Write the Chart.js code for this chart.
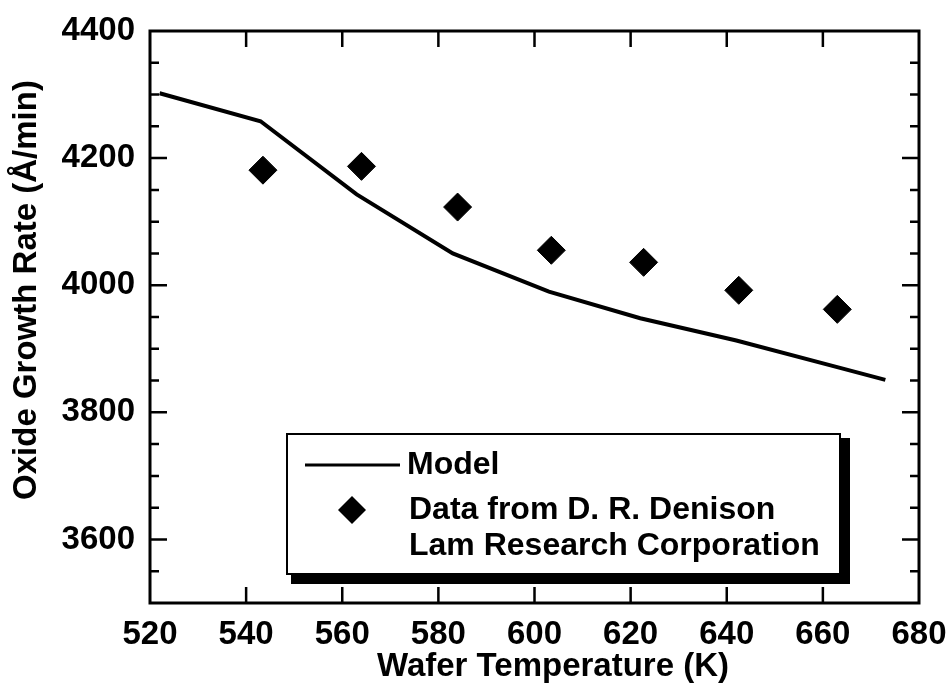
<!DOCTYPE html>
<html>
<head>
<meta charset="utf-8">
<title>Oxide Growth Rate vs Wafer Temperature</title>
<script src="https://cdn.jsdelivr.net/npm/chart.js@4.4.1/dist/chart.umd.min.js"></script>
<style>
  html, body { margin: 0; padding: 0; background: #fff; }
  canvas { display: block; }
</style>
</head>
<body>
<canvas id="chart" width="951" height="688"></canvas>
<script>
// model curve
const modelTemps = [522, 543, 563, 583, 603, 622, 642, 662, 673];
const modelRates = [4302, 4258, 4143, 4050, 3990, 3948, 3913, 3873, 3851];
// measured points (D. R. Denison, Lam Research)
const dataTemps = [543.5, 564, 584, 603.5, 622.7, 642.5, 663];
const dataRates = [4181, 4187, 4123, 4055, 4036, 3992, 3962];
// tick labels
const xTicks = [520, 540, 560, 580, 600, 620, 640, 660, 680];
const yTicks = [3600, 3800, 4000, 4200, 4400];
const yMinorStep = 50;

const FONT = '"Liberation Sans", Arial, Helvetica, sans-serif';

// frame, inward ticks, axis titles and the boxed legend
const decor = {
    id: 'decor',
    afterDraw(chart) {
        const ctx = chart.ctx;
        const a = chart.chartArea;
        const x = chart.scales.x;
        const y = chart.scales.y;
        ctx.save();
        ctx.strokeStyle = '#000';
        ctx.fillStyle = '#000';

        // ticks
        ctx.lineWidth = 2.5;
        ctx.beginPath();
        xTicks.slice(1, -1).forEach(v => {
            const px = x.getPixelForValue(v);
            ctx.moveTo(px, a.bottom); ctx.lineTo(px, a.bottom - 16);
            ctx.moveTo(px, a.top); ctx.lineTo(px, a.top + 16);
        });
        for (let v = y.min + yMinorStep; v < y.max; v += yMinorStep) {
            const py = y.getPixelForValue(v);
            const len = yTicks.includes(v) ? 17 : 9;
            ctx.moveTo(a.left, py); ctx.lineTo(a.left + len, py);
            ctx.moveTo(a.right, py); ctx.lineTo(a.right - len, py);
        }
        ctx.stroke();

        // frame
        ctx.lineWidth = 3;
        ctx.strokeRect(a.left, a.top, a.right - a.left, a.bottom - a.top);

        // axis titles
        ctx.font = 'bold 33px ' + FONT;
        ctx.textAlign = 'center';
        ctx.textBaseline = 'middle';
        ctx.fillText('Wafer Temperature (K)', 553, 667);
        ctx.save();
        ctx.translate(27, 290);
        ctx.rotate(-Math.PI / 2);
        ctx.fillText('Oxide Growth Rate (Å/min)', 0, 0);
        ctx.restore();

        // legend box with drop shadow
        const bx = 287, by = 434, bw = 553, bh = 140;
        ctx.fillRect(bx + 4, by + 4, bw + 6, bh + 6);
        ctx.fillStyle = '#fff';
        ctx.fillRect(bx, by, bw, bh);
        ctx.lineWidth = 2;
        ctx.strokeRect(bx, by, bw, bh);

        ctx.fillStyle = '#000';
        ctx.lineWidth = 3;
        ctx.beginPath();
        ctx.moveTo(305, 465); ctx.lineTo(400, 465);
        ctx.stroke();

        ctx.beginPath();
        ctx.moveTo(352, 496); ctx.lineTo(366, 510);
        ctx.lineTo(352, 524); ctx.lineTo(338, 510);
        ctx.closePath();
        ctx.fill();

        ctx.font = 'bold 32px ' + FONT;
        ctx.textAlign = 'left';
        ctx.fillText('Model', 407, 465);
        ctx.fillText('Data from D. R. Denison', 409, 510);
        ctx.fillText('Lam Research Corporation', 409, 546);
        ctx.restore();
    }
};

const ctx = document.getElementById('chart').getContext('2d');
const chart = new Chart(ctx, {
    type: 'scatter',
    data: {
        datasets: [{
            label: 'Model',
            type: 'line',
            data: modelTemps.map((t, i) => ({ x: t, y: modelRates[i] })),
            borderColor: '#000',
            borderWidth: 4,
            pointRadius: 0,
            tension: 0,
            fill: false
        }, {
            label: 'Data from D. R. Denison Lam Research Corporation',
            data: dataTemps.map((t, i) => ({ x: t, y: dataRates[i] })),
            pointStyle: 'rectRot',
            pointRadius: 14,
            backgroundColor: '#000',
            borderColor: '#000',
            borderWidth: 1
        }]
    },
    options: {
        responsive: false,
        animation: false,
        layout: { padding: { top: 31, right: 32, left: 0, bottom: 0 } },
        plugins: {
            legend: { display: false },
            tooltip: { enabled: false }
        },
        scales: {
            x: {
                type: 'linear',
                min: 520,
                max: 680,
                grid: { display: false },
                border: { display: false },
                afterBuildTicks: s => { s.ticks = xTicks.map(v => ({ value: v })); },
                afterFit: s => { s.height = 85; },
                ticks: {
                    color: '#000',
                    padding: 4,
                    maxRotation: 0,
                    callback: v => String(v),
                    font: { family: FONT, size: 33, weight: 'bold' }
                }
            },
            y: {
                min: 3500,
                max: 4400,
                grid: { display: false },
                border: { display: false },
                afterBuildTicks: s => { s.ticks = yTicks.map(v => ({ value: v })); },
                afterFit: s => { s.width = 150; },
                ticks: {
                    color: '#000',
                    padding: 7,
                    callback: v => String(v),
                    font: { family: FONT, size: 33, weight: 'bold' }
                }
            }
        }
    },
    plugins: [decor]
});
</script>
</body>
</html>
